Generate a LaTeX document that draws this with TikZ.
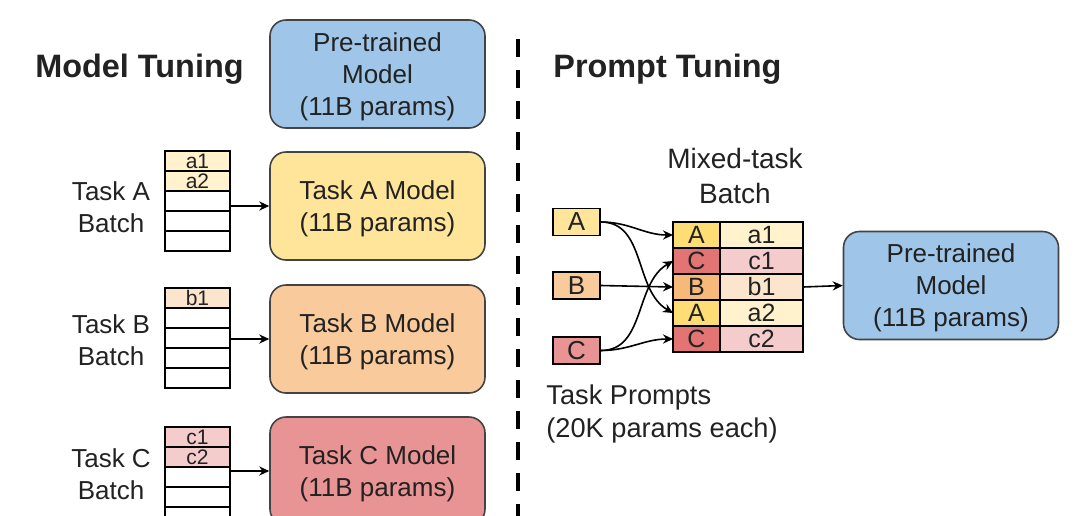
\documentclass[tikz,border=0pt]{standalone}
\usepackage{fontspec}
\setmainfont{Liberation Sans}
\usetikzlibrary{positioning,arrows.meta}
\usepackage{xcolor}
\definecolor{ptblue}{HTML}{9FC5E8}
\definecolor{tayellow}{HTML}{FFE599}
\definecolor{tborange}{HTML}{F9CB9C}
\definecolor{tcred}{HTML}{E99494}
\definecolor{keyyellow}{HTML}{FFD966}
\definecolor{keyorange}{HTML}{F6B26B}
\definecolor{keyred}{HTML}{E06666}
\definecolor{lightyellow}{HTML}{FFF2CC}
\definecolor{lightorange}{HTML}{FCE5CD}
\definecolor{lightred}{HTML}{F4CCCC}
\definecolor{edgegray}{HTML}{434343}
\definecolor{inkgray}{HTML}{222222}

\begin{document}
\begin{tikzpicture}[x=0.5pt,y=-0.5pt,>={Stealth[length=5pt,width=4.6pt]},
  every node/.style={text=inkgray},
  model/.style={draw=edgegray,line width=0.8pt,rounded corners=8pt,minimum width=107.5pt,
    minimum height=54pt,align=center,font=\fontsize{13}{16}\selectfont,text depth=-1pt},
  row/.style={draw=black,line width=0.7pt,minimum width=32.5pt,minimum height=10pt,
    inner sep=0pt,outer sep=0pt,font=\fontsize{10.5}{11}\selectfont},
  keycell/.style={draw=black,line width=0.7pt,minimum width=23.5pt,minimum height=13pt,
    inner sep=0pt,outer sep=0pt,font=\fontsize{12.5}{13}\selectfont},
  valcell/.style={keycell,minimum width=41.5pt},
  prompt/.style={draw=black,line width=0.8pt,minimum width=23.5pt,minimum height=13.5pt,
    inner sep=0pt,font=\fontsize{13}{14}\selectfont},
  label/.style={align=center,font=\fontsize{13}{16}\selectfont},
  title/.style={anchor=west,inner sep=0pt,font=\fontsize{16.2}{18}\selectfont\bfseries}]
\clip (0,0) rectangle (1080,515);
\fill[white] (0,0) rectangle (1080,515);

% model tuning side
\node[title] (mt) at (35,69) {Model Tuning};
\node[model,fill=ptblue] (pre) at (377.5,74) {Pre-trained\\Model\\(11B params)};
\node[model,fill=tayellow] (tam) at (377.5,206) {Task A Model\\(11B params)};
\node[model,fill=tborange] (tbm) at (377.5,339) {Task B Model\\(11B params)};
\node[model,fill=tcred] (tcm) at (377.5,471) {Task C Model\\(11B params)};

\node[row,fill=lightyellow] (ta1) at (197.5,161) {a1};
\node[row,fill=lightyellow,below=0pt of ta1] (ta2) {a2};
\node[row,below=0pt of ta2] (ta3) {};
\node[row,below=0pt of ta3] (ta4) {};
\node[row,below=0pt of ta4] (ta5) {};
\node[label] (lta) at (111,207) {Task A\\Batch};
\draw[->,line width=0.7pt] (ta3.east |- tam.west) -- (tam.west);

\node[row,fill=lightorange] (tb1) at (197.5,298) {b1};
\node[row,below=0pt of tb1] (tb2) {};
\node[row,below=0pt of tb2] (tb3) {};
\node[row,below=0pt of tb3] (tb4) {};
\node[row,below=0pt of tb4] (tb5) {};
\node[label] (ltb) at (111,340) {Task B\\Batch};
\draw[->,line width=0.7pt] (tb3.east |- tbm.west) -- (tbm.west);

\node[row,fill=lightred] (tc1) at (197.5,437) {c1};
\node[row,fill=lightred,below=0pt of tc1] (tc2) {c2};
\node[row,below=0pt of tc2] (tc3) {};
\node[row,below=0pt of tc3] (tc4) {};
\node[row,below=0pt of tc4] (tc5) {};
\node[label] (ltc) at (111,474) {Task C\\Batch};
\draw[->,line width=0.7pt] (tc3.east |- tcm.west) -- (tcm.west);

% divider
\draw[line width=2.3pt,dash pattern=on 9pt off 6.5pt] (518,39) -- (518,530);

% prompt tuning side
\node[title] (pt) at (553,69) {Prompt Tuning};
\node[align=center,font=\fontsize{14}{17.5}\selectfont] (mix) at (735,176) {Mixed-task\\Batch};

\node[prompt,fill=tayellow] (pA) at (576.5,222) {A};
\node[prompt,fill=tborange] (pB) at (576.5,285.5) {B};
\node[prompt,fill=tcred] (pC) at (576.5,350.5) {C};
\node[anchor=west,inner sep=0pt,align=left,font=\fontsize{13.6}{16.5}\selectfont] (tp) at (546,414)
  {Task Prompts\\(20K params each)};

\node[keycell,fill=keyyellow!70!tayellow] (k1) at (696.5,235) {A};
\node[keycell,fill=keyred!70!tcred,below=0pt of k1] (k2) {C};
\node[keycell,fill=keyorange!70!tborange,below=0pt of k2] (k3) {B};
\node[keycell,fill=keyyellow!70!tayellow,below=0pt of k3] (k4) {A};
\node[keycell,fill=keyred!70!tcred,below=0pt of k4] (k5) {C};
\node[valcell,fill=lightyellow,right=0pt of k1] (v1) {a1};
\node[valcell,fill=lightred,right=0pt of k2] (v2) {c1};
\node[valcell,fill=lightorange,right=0pt of k3] (v3) {b1};
\node[valcell,fill=lightyellow,right=0pt of k4] (v4) {a2};
\node[valcell,fill=lightred,right=0pt of k5] (v5) {c2};

\node[model,fill=ptblue] (pre2) at (951,285.5) {Pre-trained\\Model\\(11B params)};

\draw[->,line width=0.8pt] (pA.east) to[out=0,in=180] (k1.west);
\draw[->,line width=0.8pt] (pA.east) to[out=0,in=150] (k4.west);
\draw[->,line width=0.8pt] (pB.east) -- (k3.west);
\draw[->,line width=0.8pt] (pC.east) to[out=0,in=210] (k2.west);
\draw[->,line width=0.8pt] (pC.east) to[out=0,in=180] (k5.west);
\draw[->,line width=0.8pt] (v3.east) -- (pre2.west);
\end{tikzpicture}
\end{document}
